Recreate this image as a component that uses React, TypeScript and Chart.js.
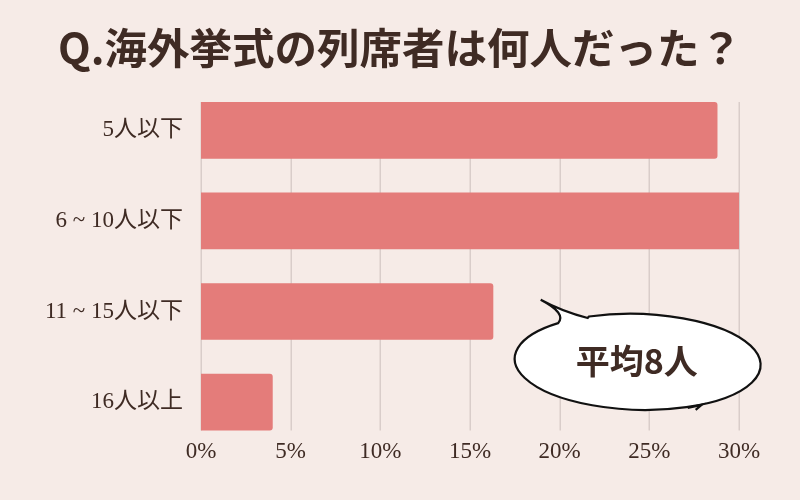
import { useEffect, useRef } from "react";
import { Chart, registerables, Plugin } from "chart.js";

Chart.register(...registerables);

const categories = ["5人以下", "6 ~ 10人以下", "11 ~ 15人以下", "16人以上"];
const shares = [28.8, 30.4, 16.3, 4.0];
const xTicks = [0, 5, 10, 15, 20, 25, 30];
const titleText = "Q.海外挙式の列席者は何人だった？";
const bubbleText = "平均8人";

const BG = "#f6ebe7";
const BAR = "#e47c7a";
const GRID = "#d9cdca";
const INK = "#3f2b24";
const TICK_FONT = "'Liberation Serif', 'Noto Sans CJK JP', serif";

// title centred on the whole canvas, not on the plot
const titlePlugin: Plugin<"bar"> = {
  id: "pageTitle",
  afterDraw(chart) {
    const ctx = chart.ctx;
    ctx.save();
    ctx.fillStyle = INK;
    ctx.font = "bold 42.5px 'Noto Sans CJK JP', sans-serif";
    ctx.textAlign = "center";
    ctx.textBaseline = "middle";
    ctx.fillText(titleText, chart.width / 2, 48);
    ctx.restore();
  },
};

// vertical grid lines, only as tall as the bar stack
const gridPlugin: Plugin<"bar"> = {
  id: "barGrid",
  beforeDatasetsDraw(chart) {
    const bars = chart.getDatasetMeta(0).data as any[];
    if (!bars.length) return;
    const first = bars[0];
    const last = bars[bars.length - 1];
    const top = first.y - first.height / 2;
    const bottom = last.y + last.height / 2;
    const x = chart.scales.x;
    const ctx = chart.ctx;
    ctx.save();
    ctx.strokeStyle = GRID;
    ctx.lineWidth = 1.5;
    xTicks.forEach((t) => {
      const px = Math.round(x.getPixelForValue(t)) + 0.25;
      ctx.beginPath();
      ctx.moveTo(px, top);
      ctx.lineTo(px, bottom);
      ctx.stroke();
    });
    ctx.restore();
  },
};

// speech bubble with the average
const bubblePlugin: Plugin<"bar"> = {
  id: "bubble",
  afterDatasetsDraw(chart) {
    const x = chart.scales.x;
    const y = chart.scales.y;
    const cx = x.getPixelForValue(24.35);
    const cy = (y.getPixelForValue(2) + y.getPixelForValue(3)) / 2 + 5;
    const rx = 123;
    const ry = 48;
    const ctx = chart.ctx;
    const a1 = (-114 * Math.PI) / 180;
    const a2 = (229 * Math.PI) / 180;
    ctx.save();
    ctx.beginPath();
    ctx.ellipse(cx, cy, rx, ry, 0.03, a1, a2, false);
    const bx = cx + rx * Math.cos(a2);
    const by = cy + ry * Math.sin(a2);
    const tipX = cx - 97;
    const tipY = cy - 62;
    ctx.quadraticCurveTo(bx + 10, by - 12, tipX, tipY);
    ctx.quadraticCurveTo(cx - 75, cy - 50, cx + rx * Math.cos(a1), cy + ry * Math.sin(a1));
    ctx.closePath();
    ctx.fillStyle = "#ffffff";
    ctx.fill();
    ctx.lineWidth = 2.2;
    ctx.strokeStyle = "#111111";
    ctx.stroke();
    // little flick at the bottom edge
    ctx.beginPath();
    ctx.moveTo(cx + 50, cy + 46);
    ctx.lineTo(cx + 64, cy + 43);
    ctx.lineTo(cx + 58, cy + 48);
    ctx.stroke();
    ctx.fillStyle = INK;
    ctx.font = "bold 34px 'Noto Sans CJK JP', sans-serif";
    ctx.textAlign = "center";
    ctx.textBaseline = "middle";
    ctx.fillText(bubbleText, cx - 1, cy - 1);
    ctx.restore();
  },
};

const App = () => {
  const chartRef = useRef<Chart<"bar"> | null>(null);
  const chartCanvas = useRef<HTMLCanvasElement | null>(null);

  useEffect(() => {
    if (chartRef.current) {
      chartRef.current.destroy();
    }

    const context = chartCanvas.current?.getContext("2d");
    if (context) {
      chartRef.current = new Chart(context, {
        type: "bar",
        data: {
          labels: categories,
          datasets: [
            {
              data: shares,
              backgroundColor: BAR,
              borderWidth: 0,
              borderRadius: 3,
              borderSkipped: "start",
              categoryPercentage: 1,
              barPercentage: 0.626,
            },
          ],
        },
        options: {
          indexAxis: "y",
          animation: false,
          responsive: true,
          maintainAspectRatio: false,
          layout: { padding: { left: 0, right: 61, top: 85, bottom: 0 } },
          plugins: {
            legend: { display: false },
            tooltip: { enabled: false },
            title: { display: false },
          },
          scales: {
            x: {
              min: 0,
              max: 30,
              grid: { display: false, drawTicks: false },
              border: { display: false },
              ticks: {
                stepSize: 5,
                color: INK,
                // mirrored (no label clipping), pushed back below the plot
                mirror: true,
                padding: -18,
                font: { family: TICK_FONT, size: 23 },
                callback: (v) => `${v}%`,
              },
              afterFit: (s) => {
                s.height = 52.6;
              },
            },
            y: {
              grid: { display: false },
              border: { display: false },
              ticks: {
                color: INK,
                padding: 10,
                font: { family: TICK_FONT, size: 23 },
              },
              afterFit: (s) => {
                s.width = 201;
              },
            },
          },
        },
        plugins: [gridPlugin, bubblePlugin, titlePlugin],
      });
    }

    return () => {
      if (chartRef.current) {
        chartRef.current.destroy();
        chartRef.current = null;
      }
    };
  }, []);

  return (
    <div
      style={{
        position: "fixed",
        left: 0,
        top: 0,
        width: 800,
        height: 500,
        background: BG,
      }}
    >
      <canvas ref={chartCanvas}></canvas>
    </div>
  );
};

export default App;
